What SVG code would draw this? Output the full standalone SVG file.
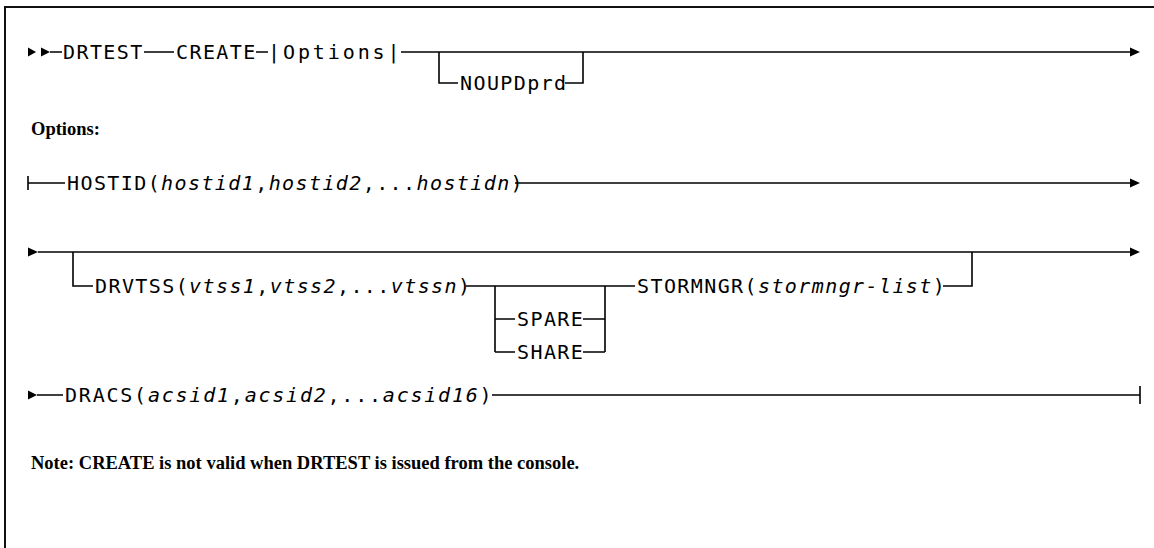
<svg xmlns="http://www.w3.org/2000/svg" width="1154" height="548" viewBox="0 0 1154 548">
<style>
.t{font-family:"DejaVu Sans Mono","Liberation Mono",monospace;font-size:20px;letter-spacing:1.4px;fill:#000}
.i{font-style:italic}
.h{font-family:"Liberation Serif","Times New Roman",serif;font-size:18.5px;font-weight:bold;fill:#000}
.l{fill:none;stroke:#000;stroke-width:1.6}
.a{fill:#000}
</style>
<rect width="1154" height="548" fill="#fff"/>
<path d="M5,548 V7 H1154" fill="none" stroke="#111" stroke-width="2"/>
<g id="connectors">
<!-- row 1 -->
<polygon class="a" points="28,47.5 36,52 28,56.5"/>
<polygon class="a" points="41,47.5 50,52 41,56.5"/>
<path class="l" d="M50,52 H62 M144,52 H174 M256,52 H268 M401,52 H1130"/>
<polygon class="a" points="1130,47.5 1140,52 1130,56.5"/>
<path class="l" d="M439,52 V83 H458 M565,83 H583 V52"/>
<!-- row 2 -->
<path class="l" d="M28,176 V190 M28,183 H65 M515,183 H1130"/>
<polygon class="a" points="1130,178.5 1140,183 1130,187.5"/>
<!-- row 3 -->
<polygon class="a" points="28,247.5 38,252 28,256.5"/>
<path class="l" d="M38,252 H1130"/>
<polygon class="a" points="1130,247.5 1140,252 1130,256.5"/>
<path class="l" d="M73,252 V286 H93 M466,286 H635 M495,286 V352 M605,286 V352 M495,319 H515 M583,319 H605 M495,352 H515 M583,352 H605 M943,286 H972 V252"/>
<!-- row 4 -->
<polygon class="a" points="28,390.5 37,395 28,399.5"/>
<path class="l" d="M37,395 H63 M492,395 H1140 M1140,386 V404"/>
</g>
<g id="n-drtest"><text class="t" x="63" y="59">DRTEST</text></g>
<g id="n-create"><text class="t" x="176" y="59">CREATE</text></g>
<g id="n-options-ref"><text class="t" x="268" y="59" textLength="133" lengthAdjust="spacing">|Options|</text></g>
<g id="n-noupdprd"><text class="t" x="460" y="90">NOUPDprd</text></g>
<g id="n-options-title"><text class="h" x="31" y="135">Options:</text></g>
<g id="n-hostid"><text class="t" x="67" y="190">HOSTID(<tspan class="i">hostid1</tspan>,<tspan class="i">hostid2</tspan>,...<tspan class="i">hostidn</tspan>)</text></g>
<g id="n-drvtss"><text class="t" x="95" y="293">DRVTSS(<tspan class="i">vtss1</tspan>,<tspan class="i">vtss2</tspan>,...<tspan class="i">vtssn</tspan>)</text></g>
<g id="n-spare"><text class="t" x="517" y="326">SPARE</text></g>
<g id="n-share"><text class="t" x="517" y="359">SHARE</text></g>
<g id="n-stormngr"><text class="t" x="637" y="293">STORMNGR(<tspan class="i">stormngr-list</tspan>)</text></g>
<g id="n-dracs"><text class="t" x="65" y="402" textLength="428" lengthAdjust="spacing">DRACS(<tspan class="i">acsid1</tspan>,<tspan class="i">acsid2</tspan>,...<tspan class="i">acsid16</tspan>)</text></g>
<g id="n-note"><text class="h" x="31" y="469">Note: CREATE is not valid when DRTEST is issued from the console.</text></g>
</svg>
